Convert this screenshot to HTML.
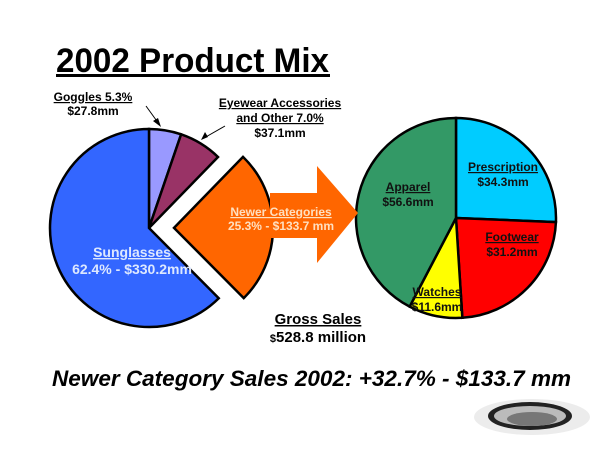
<!DOCTYPE html>
<html><head><meta charset="utf-8"><style>
html,body{margin:0;padding:0;background:#fff;width:600px;height:450px;overflow:hidden}
svg{display:block}
text{font-family:"Liberation Sans",sans-serif}
</style></head><body>
<svg id="c" width="600" height="450" viewBox="0 0 600 450">
<text x="56" y="72" font-size="34" font-weight="bold" textLength="273" lengthAdjust="spacingAndGlyphs">2002 Product Mix</text>
<rect x="56" y="74" width="274" height="3" fill="#000"/>
<g id="left"></g>
<g id="right"></g>
<polygon points="270,193 317,193 317,166 358,213 317,263 317,238 270,238" fill="#ff6600"/>
<g font-size="12" font-weight="bold" text-anchor="middle">
<text x="93" y="101" text-decoration="underline">Goggles 5.3%</text>
<text x="93" y="115">$27.8mm</text>
<text x="280" y="107" text-decoration="underline">Eyewear Accessories</text>
<text x="280" y="122" text-decoration="underline">and Other 7.0%</text>
<text x="280" y="137">$37.1mm</text>
<text x="281" y="216" fill="#ffe0c0" text-decoration="underline">Newer Categories</text>
<text x="281" y="230" fill="#ffe0c0">25.3% - $133.7 mm</text>
<text x="132" y="257" fill="#dde8ff" font-size="14" text-decoration="underline">Sunglasses</text>
<text x="132" y="274" fill="#dde8ff" font-size="14">62.4% - $330.2mm</text>
</g>
<line x1="146" y1="106" x2="159" y2="124" stroke="#000"/>
<polygon points="161,127 153,121 158,118" fill="#000"/>
<line x1="225" y1="126" x2="204" y2="138" stroke="#000"/>
<polygon points="201,140 205,132 208,137" fill="#000"/>
<g font-size="12" font-weight="bold" text-anchor="middle" fill="#111">
<text x="503" y="171" text-decoration="underline">Prescription</text>
<text x="503" y="186">$34.3mm</text>
<text x="408" y="191" text-decoration="underline">Apparel</text>
<text x="408" y="206">$56.6mm</text>
<text x="512" y="241" text-decoration="underline">Footwear</text>
<text x="512" y="256">$31.2mm</text>
<text x="437" y="296" text-decoration="underline">Watches</text>
<text x="437" y="311">$11.6mm</text>
</g>
<text x="318" y="324" font-size="15" font-weight="bold" text-anchor="middle" text-decoration="underline">Gross Sales</text>
<text x="318" y="342" font-size="15" font-weight="bold" text-anchor="middle"><tspan font-size="11">$</tspan>528.8 million</text>
<text x="52" y="386" font-size="22" font-weight="bold" font-style="italic" textLength="519" lengthAdjust="spacingAndGlyphs">Newer Category Sales 2002: +32.7% - $133.7 mm</text>
<g>
<ellipse cx="532" cy="417" rx="58" ry="18" fill="#ececec"/>
<ellipse cx="530" cy="416" rx="42" ry="14" fill="#222"/>
<ellipse cx="530" cy="416" rx="36" ry="10" fill="#bbb"/>
<ellipse cx="532" cy="419" rx="25" ry="7" fill="#777"/>
</g>
</svg>
<script>
const leftCats=["Goggles","Eyewear Accessories and Other","Newer Categories","Sunglasses"];
const leftVals=[27.8,37.1,133.7,330.2];
const leftColors=["#9999ff","#993366","#ff6600","#3366ff"];
const leftExplode=[0,0,25,0];
const rightCats=["Prescription","Footwear","Watches","Apparel"];
const rightVals=[34.3,31.2,11.6,56.6];
const rightColors=["#00ccff","#ff0000","#ffff00","#339966"];
const NS="http://www.w3.org/2000/svg";
function pt(cx,cy,r,f){const a=f*2*Math.PI;return [cx+r*Math.sin(a),cy-r*Math.cos(a)];}
function drawPie(g,cats,vals,colors,cx,cy,r,explode){
  const tot=vals.reduce((a,b)=>a+b,0);let acc=0;
  vals.forEach((v,i)=>{
    const f0=acc/tot,f1=(acc+v)/tot;acc+=v;
    const e=explode?explode[i]:0;const m=pt(0,0,e,(f0+f1)/2);
    const x=cx+m[0],y=cy+m[1];
    const p0=pt(x,y,r,f0),p1=pt(x,y,r,f1);
    const p=document.createElementNS(NS,"path");
    p.setAttribute("d",`M${x},${y}L${p0[0]},${p0[1]}A${r},${r} 0 ${f1-f0>0.5?1:0} 1 ${p1[0]},${p1[1]}Z`);
    p.setAttribute("fill",colors[i]);p.setAttribute("stroke","#000");p.setAttribute("stroke-width","2.5");
    
    
    g.appendChild(p);
  });
}
drawPie(document.getElementById("left"),leftCats,leftVals,leftColors,149,228,99,leftExplode);
drawPie(document.getElementById("right"),rightCats,rightVals,rightColors,456,218,100,null);
</script>
</body></html>
